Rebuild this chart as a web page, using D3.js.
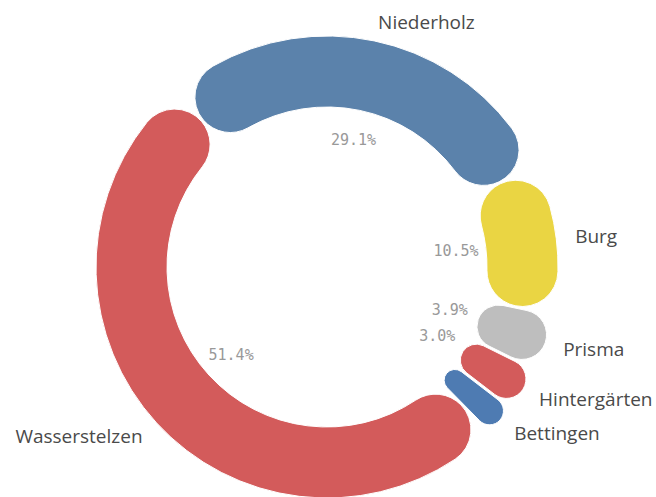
<!DOCTYPE html>
<html>
<head>
<meta charset="utf-8">
<script src="https://cdn.jsdelivr.net/npm/d3@7"></script>
<style>
  html, body { margin: 0; padding: 0; background: #fff; }
  svg { display: block; }
</style>
</head>
<body>
<svg id="chart" width="656" height="497"></svg>
<script>
const categories = ["Wasserstelzen", "Niederholz", "Burg", "Prisma", "Hintergärten", "Bettingen"];
const values = [51.4, 29.1, 10.5, 3.9, 3.0, 2.1];
const pctLabels = ["51.4%", "29.1%", "10.5%", "3.9%", "3.0%", ""];
const colors = ["#D35B5B", "#5B82AB", "#EAD543", "#BEBEBE", "#D35B5B", "#4E7BB2"];

const W = 656, H = 497;
const cx = 327, cy = 267;
const rOuter = 231, rInner = 160;

const svg = d3.select("#chart");
const g = svg.append("g").attr("transform", `translate(${cx},${cy})`);

const startDeg = 135.5;
const pie = d3.pie()
  .sort(null)
  .value(d => d)
  .startAngle(startDeg * Math.PI / 180)
  .endAngle((startDeg + 360) * Math.PI / 180)
  .padAngle(0.008);

const arcs = pie(values);

const arc = d3.arc()
  .innerRadius(rInner)
  .outerRadius(rOuter)
  .cornerRadius(36);

g.selectAll("path.slice")
  .data(arcs)
  .join("path")
  .attr("class", "slice")
  .attr("d", arc)
  .attr("fill", (d, i) => colors[i])
  .attr("stroke", "#fff")
  .attr("stroke-width", 1);

const pctArc = d3.arc().innerRadius(130).outerRadius(130);
g.selectAll("text.pct")
  .data(arcs)
  .join("text")
  .attr("class", "pct")
  .attr("transform", d => `translate(${pctArc.centroid(d)})`)
  .attr("text-anchor", "middle")
  .attr("dominant-baseline", "central")
  .style("font-family", "'DejaVu Sans Mono', monospace")
  .style("font-size", "15px")
  .attr("fill", "#999")
  .text((d, i) => pctLabels[i]);

const lblR = 250;
g.selectAll("text.lbl")
  .data(arcs)
  .join("text")
  .attr("class", "lbl")
  .each(function(d, i) {
    const a = (d.startAngle + d.endAngle) / 2;
    const x = lblR * Math.sin(a), y = -lblR * Math.cos(a);
    const right = Math.sin(a) >= 0;
    d3.select(this)
      .attr("x", x).attr("y", y)
      .attr("text-anchor", right ? "start" : "end");
  })
  .attr("dominant-baseline", "central")
  .style("font-family", "'Open Sans', sans-serif")
  .style("font-size", "19px")
  .attr("fill", "#4a4a4a")
  .text((d, i) => categories[i]);
</script>
</body>
</html>
